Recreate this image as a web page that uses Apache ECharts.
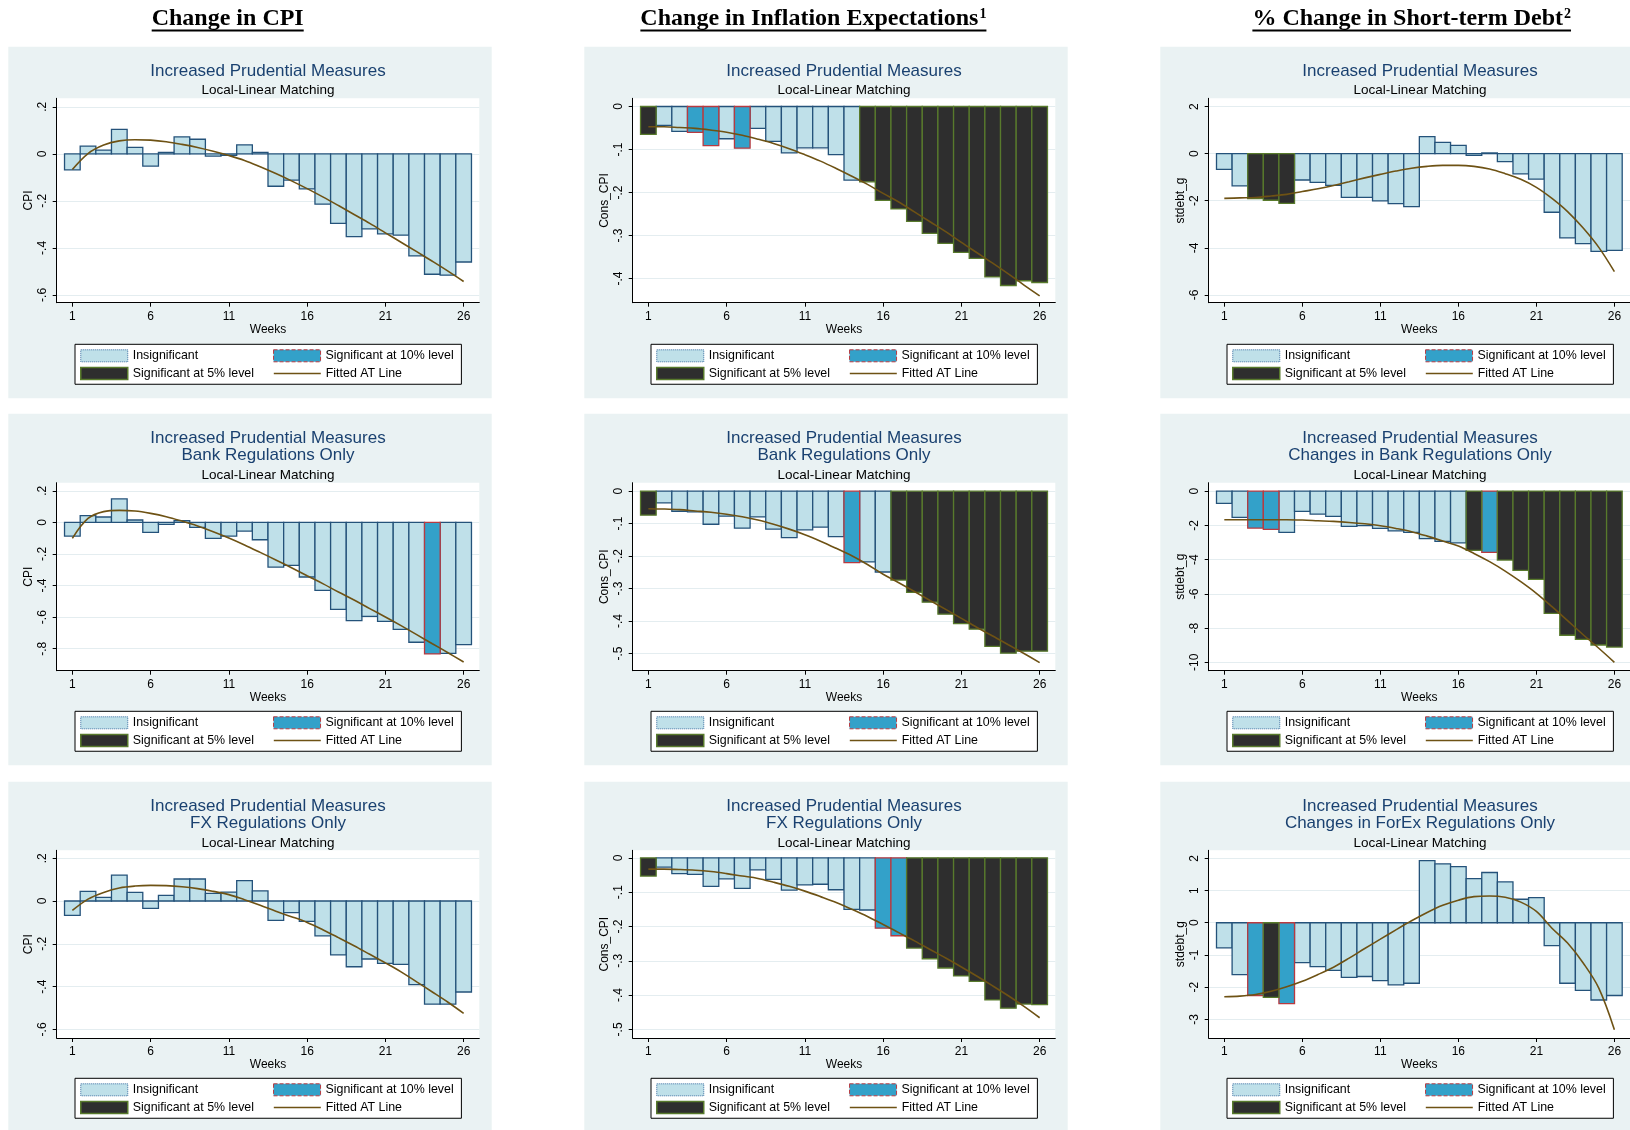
<!DOCTYPE html>
<html><head><meta charset="utf-8">
<script src="https://cdn.jsdelivr.net/npm/echarts@6/dist/echarts.min.js"></script>
<style>html,body{margin:0;padding:0;background:#fff}#c{width:1630px;height:1130px}</style>
</head><body><div id="c"></div>
<script>
const weeks = [1,2,3,4,5,6,7,8,9,10,11,12,13,14,15,16,17,18,19,20,21,22,23,24,25,26];
const xTicks = [1,6,11,16,21,26];
const headers = ['Change in CPI', 'Change in Inflation Expectations', '% Change in Short-term Debt'];
const headerSups = ['', '1', '2'];
const classNames = ['Insignificant', 'Significant at 10% level', 'Significant at 5% level'];
const lineName = 'Fitted AT Line';
const subTitle = 'Local-Linear Matching';
const xName = 'Weeks';

// sig codes: 0 insignificant, 1 significant at 10%, 2 significant at 5%
// Row 1: Increased Prudential Measures
const p1Values = [-0.068,0.033,0.016,0.104,0.027,-0.052,0.006,0.072,0.062,-0.010,-0.007,0.038,0.006,-0.138,-0.112,-0.149,-0.214,-0.296,-0.352,-0.319,-0.340,-0.346,-0.434,-0.512,-0.516,-0.460];
const p1Sig = [0,0,0,0,0,0,0,0,0,0,0,0,0,0,0,0,0,0,0,0,0,0,0,0,0,0];
const p1Fit = [-0.067,0.001,0.037,0.055,0.060,0.058,0.051,0.040,0.027,0.011,-0.007,-0.028,-0.055,-0.084,-0.115,-0.148,-0.183,-0.220,-0.258,-0.296,-0.336,-0.376,-0.416,-0.457,-0.499,-0.543];
const p1Ticks = [-0.6,-0.4,-0.2,0,0.2];
const p1Range = [-0.633,0.236];

const p2Values = [-0.065,-0.044,-0.058,-0.060,-0.091,-0.075,-0.097,-0.051,-0.081,-0.108,-0.096,-0.096,-0.112,-0.171,-0.175,-0.218,-0.238,-0.267,-0.295,-0.318,-0.339,-0.353,-0.396,-0.416,-0.405,-0.409];
const p2Sig = [2,0,0,1,1,0,1,0,0,0,0,0,0,0,2,2,2,2,2,2,2,2,2,2,2,2];
const p2Fit = [-0.047,-0.047,-0.049,-0.051,-0.055,-0.060,-0.067,-0.076,-0.086,-0.098,-0.112,-0.127,-0.144,-0.162,-0.181,-0.202,-0.222,-0.245,-0.268,-0.291,-0.316,-0.340,-0.364,-0.389,-0.415,-0.440];
const p2Ticks = [-0.4,-0.3,-0.2,-0.1,0];
const p2Range = [-0.456,0.019];

const p3Values = [-0.67,-1.37,-1.91,-1.98,-2.11,-1.12,-1.22,-1.35,-1.86,-1.86,-2.01,-2.12,-2.25,0.72,0.48,0.35,-0.07,0.03,-0.34,-0.86,-1.08,-2.49,-3.58,-3.82,-4.15,-4.11];
const p3Sig = [0,0,2,2,2,0,0,0,0,0,0,0,0,0,0,0,0,0,0,0,0,0,0,0,0,0];
const p3Fit = [-1.90,-1.88,-1.86,-1.80,-1.73,-1.61,-1.49,-1.35,-1.19,-1.03,-0.88,-0.74,-0.62,-0.54,-0.50,-0.50,-0.54,-0.65,-0.85,-1.09,-1.43,-1.90,-2.46,-3.16,-3.98,-5.01];
const p3Ticks = [-6,-4,-2,0,2];
const p3Range = [-6.33,2.35];

// Row 2: Bank regulations
const p4Values = [-0.087,0.042,0.034,0.148,0.015,-0.063,-0.013,0.011,-0.032,-0.101,-0.087,-0.055,-0.110,-0.283,-0.272,-0.346,-0.430,-0.551,-0.622,-0.595,-0.627,-0.677,-0.759,-0.833,-0.829,-0.774];
const p4Sig = [0,0,0,0,0,0,0,0,0,0,0,0,0,0,0,0,0,0,0,0,0,0,0,1,0,0];
const p4Fit = [-0.101,0.025,0.068,0.076,0.072,0.057,0.036,0.008,-0.023,-0.059,-0.099,-0.143,-0.190,-0.238,-0.287,-0.338,-0.388,-0.441,-0.492,-0.546,-0.599,-0.654,-0.711,-0.768,-0.825,-0.884];
const p4Ticks = [-0.8,-0.6,-0.4,-0.2,0,0.2];
const p4Range = [-0.939,0.251];

const p5Values = [-0.074,-0.036,-0.062,-0.064,-0.102,-0.077,-0.114,-0.079,-0.117,-0.143,-0.119,-0.111,-0.140,-0.220,-0.218,-0.249,-0.274,-0.312,-0.342,-0.379,-0.408,-0.425,-0.478,-0.499,-0.493,-0.493];
const p5Sig = [2,0,0,0,0,0,0,0,0,0,0,0,0,1,0,0,2,2,2,2,2,2,2,2,2,2];
const p5Fit = [-0.054,-0.055,-0.057,-0.061,-0.065,-0.071,-0.079,-0.089,-0.102,-0.117,-0.134,-0.154,-0.176,-0.199,-0.226,-0.256,-0.282,-0.309,-0.337,-0.364,-0.392,-0.420,-0.446,-0.473,-0.500,-0.528];
const p5Ticks = [-0.5,-0.4,-0.3,-0.2,-0.1,0];
const p5Range = [-0.553,0.026];

const p6Values = [-0.72,-1.54,-2.16,-2.24,-2.41,-1.19,-1.34,-1.48,-2.06,-2.02,-2.18,-2.32,-2.41,-2.78,-2.94,-3.02,-3.46,-3.58,-4.03,-4.63,-5.16,-7.14,-8.42,-8.66,-8.99,-9.11];
const p6Sig = [0,0,1,1,0,0,0,0,0,0,0,0,0,0,0,0,2,1,2,2,2,2,2,2,2,2];
const p6Fit = [-1.67,-1.67,-1.67,-1.67,-1.67,-1.69,-1.73,-1.77,-1.83,-1.91,-2.02,-2.18,-2.37,-2.63,-2.92,-3.21,-3.64,-4.12,-4.67,-5.29,-5.97,-6.75,-7.57,-8.39,-9.18,-10.0];
const p6Ticks = [-10,-8,-6,-4,-2,0];
const p6Range = [-10.49,0.49];

// Row 3: FX regulations
const p7Values = [-0.067,0.045,0.017,0.121,0.040,-0.034,0.026,0.103,0.103,0.036,0.042,0.095,0.047,-0.090,-0.054,-0.095,-0.163,-0.252,-0.307,-0.271,-0.291,-0.296,-0.391,-0.482,-0.482,-0.425];
const p7Sig = [0,0,0,0,0,0,0,0,0,0,0,0,0,0,0,0,0,0,0,0,0,0,0,0,0,0];
const p7Fit = [-0.044,0.009,0.040,0.061,0.070,0.073,0.072,0.067,0.058,0.045,0.030,0.006,-0.020,-0.048,-0.073,-0.100,-0.134,-0.171,-0.209,-0.249,-0.289,-0.331,-0.378,-0.425,-0.473,-0.525];
const p7Ticks = [-0.6,-0.4,-0.2,0,0.2];
const p7Range = [-0.640,0.237];

const p8Values = [-0.053,-0.027,-0.046,-0.048,-0.083,-0.061,-0.089,-0.035,-0.063,-0.094,-0.079,-0.077,-0.093,-0.150,-0.152,-0.205,-0.227,-0.263,-0.294,-0.321,-0.344,-0.360,-0.414,-0.438,-0.426,-0.428];
const p8Sig = [2,0,0,0,0,0,0,0,0,0,0,0,0,0,0,1,1,2,2,2,2,2,2,2,2,2];
const p8Fit = [-0.033,-0.033,-0.034,-0.036,-0.040,-0.046,-0.053,-0.060,-0.071,-0.083,-0.097,-0.113,-0.130,-0.150,-0.171,-0.194,-0.218,-0.242,-0.267,-0.292,-0.318,-0.345,-0.373,-0.402,-0.433,-0.466];
const p8Ticks = [-0.5,-0.4,-0.3,-0.2,-0.1,0];
const p8Range = [-0.525,0.022];

const p9Values = [-0.78,-1.61,-2.26,-2.32,-2.51,-1.24,-1.36,-1.48,-1.70,-1.67,-1.80,-1.93,-1.88,1.93,1.83,1.74,1.37,1.56,1.27,0.73,0.78,-0.71,-1.88,-2.10,-2.40,-2.26];
const p9Sig = [0,0,1,2,1,0,0,0,0,0,0,0,0,0,0,0,0,0,0,0,0,0,0,0,0,0];
const p9Fit = [-2.30,-2.28,-2.23,-2.13,-1.99,-1.82,-1.61,-1.38,-1.10,-0.80,-0.51,-0.22,0.06,0.32,0.54,0.70,0.81,0.83,0.79,0.64,0.35,-0.17,-0.63,-1.25,-2.03,-3.32];
const p9Ticks = [-3,-2,-1,0,1,2];
const p9Range = [-3.58,2.25];

const panels = [
  {v:p1Values,s:p1Sig,f:p1Fit,t:p1Ticks,r:p1Range,y:'CPI',lines:['Increased Prudential Measures']},
  {v:p2Values,s:p2Sig,f:p2Fit,t:p2Ticks,r:p2Range,y:'Cons_CPI',lines:['Increased Prudential Measures']},
  {v:p3Values,s:p3Sig,f:p3Fit,t:p3Ticks,r:p3Range,y:'stdebt_g',lines:['Increased Prudential Measures']},
  {v:p4Values,s:p4Sig,f:p4Fit,t:p4Ticks,r:p4Range,y:'CPI',lines:['Increased Prudential Measures','Bank Regulations Only']},
  {v:p5Values,s:p5Sig,f:p5Fit,t:p5Ticks,r:p5Range,y:'Cons_CPI',lines:['Increased Prudential Measures','Bank Regulations Only']},
  {v:p6Values,s:p6Sig,f:p6Fit,t:p6Ticks,r:p6Range,y:'stdebt_g',lines:['Increased Prudential Measures','Changes in Bank Regulations Only']},
  {v:p7Values,s:p7Sig,f:p7Fit,t:p7Ticks,r:p7Range,y:'CPI',lines:['Increased Prudential Measures','FX Regulations Only']},
  {v:p8Values,s:p8Sig,f:p8Fit,t:p8Ticks,r:p8Range,y:'Cons_CPI',lines:['Increased Prudential Measures','FX Regulations Only']},
  {v:p9Values,s:p9Sig,f:p9Fit,t:p9Ticks,r:p9Range,y:'stdebt_g',lines:['Increased Prudential Measures','Changes in ForEx Regulations Only']}
];

const FONT = '"Liberation Sans", Arial, sans-serif';
const SERIF = '"Liberation Serif", "Times New Roman", serif';
const PANEL_BG = '#eaf2f3';
const LINE_COLOR = '#6e5214';
const classStyles = [
  {fill:'#bfe0e9', stroke:'#24527a'},
  {fill:'#33a1c9', stroke:'#b83a40'},
  {fill:'#2e2e2e', stroke:'#587a2c'}
];
const legendData = [
  {name:classNames[0], icon:'rect', itemStyle:{color:classStyles[0].fill, borderColor:'#3a6ea0', borderWidth:1, borderType:'dotted'}},
  {name:classNames[1], icon:'rect', itemStyle:{color:classStyles[1].fill, borderColor:'#b83a40', borderWidth:1, borderType:'dashed'}},
  {name:classNames[2], icon:'rect', itemStyle:{color:classStyles[2].fill, borderColor:'#587a2c', borderWidth:1.5}},
  {name:lineName, itemStyle:{color:'rgba(0,0,0,0)', borderColor:'rgba(0,0,0,0)', borderWidth:0, opacity:0}, lineStyle:{color:LINE_COLOR, width:1.5}}
];

// layout
const colX = [0,576,1152];
const panelTop = [46.8,413.7,781.7];
const gridTop = [98.3,482.7,850.3];
const gridH = [204.4,188,187.7];
const legendTop = [344.3,711.3,1078.3];
const headerX = [227.7,813.4,1411.7];

function fmt(v){ const s = String(+(+v).toFixed(4)); return s.replace(/^(-?)0\./,'$1.'); }
function makeRender(k){
  const st = classStyles[k];
  return function(params, api){
    const x = api.value(0), val = api.value(1);
    const a = api.coord([x-0.5, val]), b = api.coord([x+0.5, 0]);
    return {type:'rect', shape:{x:a[0], y:Math.min(a[1],b[1]), width:b[0]-a[0], height:Math.abs(b[1]-a[1])},
      style:{fill:st.fill, stroke:st.stroke, lineWidth:1.3}};
  };
}

const measure = document.createElement('canvas').getContext('2d');
const option = {animation:false, textStyle:{fontFamily:FONT}, graphic:[], title:[], grid:[], xAxis:[], yAxis:[], legend:[], series:[]};

headers.forEach((h,i)=>{
  measure.font = 'bold 24px ' + SERIF;
  let w = measure.measureText(h).width;
  if (headerSups[i]) { measure.font = 'bold 14px ' + SERIF; w += measure.measureText(headerSups[i]).width + 1; }
  option.graphic.push({type:'text', x:headerX[i]-w/2, y:19.2, z:10,
    style:{text: headerSups[i] ? '{m|'+h+'}{s|'+headerSups[i]+'}' : '{m|'+h+'}',
      rich:{m:{font:'bold 24px '+SERIF, fill:'#000', lineHeight:24}, s:{font:'bold 14px '+SERIF, fill:'#000', verticalAlign:'top', lineHeight:18, padding:[0,0,0,1]}},
      textAlign:'left', textVerticalAlign:'middle'}});
  option.graphic.push({type:'line', z:10, shape:{x1:headerX[i]-w/2, y1:30.5, x2:headerX[i]+w/2, y2:30.5}, style:{stroke:'#000', lineWidth:2}});
});

panels.forEach((p,i)=>{
  const r = Math.floor(i/3), c = i%3;
  const px = 8.3 + colX[c], py = panelTop[r];
  const gl = 56.7 + colX[c];
  option.graphic.push({type:'rect', z:-10, silent:true, shape:{x:px, y:py, width:483.4, height:351.5}, style:{fill:PANEL_BG}});
  option.title.push({text:p.lines.join('\n'), subtext:subTitle, left:gl+211.3, top:py+15.5, textAlign:'center', padding:0, itemGap:3.6,
    textStyle:{fontSize:17, fontWeight:'normal', color:'#1a4170', lineHeight:17.7, fontFamily:FONT},
    subtextStyle:{fontSize:13.5, color:'#000', lineHeight:13.5, fontFamily:FONT}});
  option.grid.push({left:gl, top:gridTop[r], width:422.6, height:gridH[r], show:true, backgroundColor:'#fff', borderWidth:0});
  option.xAxis.push({gridIndex:i, type:'value', min:0, max:27,
    axisLine:{onZero:false, lineStyle:{color:'#000', width:1}},
    axisTick:{show:true, customValues:xTicks, length:4, lineStyle:{color:'#000'}},
    axisLabel:{customValues:xTicks, fontSize:12, color:'#000', margin:8, fontFamily:FONT},
    splitLine:{show:false},
    name:xName, nameLocation:'middle', nameGap:21, nameTextStyle:{fontSize:12, color:'#000', fontFamily:FONT}});
  option.yAxis.push({gridIndex:i, type:'value', min:p.r[0], max:p.r[1],
    axisLine:{show:true, onZero:false, lineStyle:{color:'#000', width:1}},
    axisTick:{show:true, customValues:p.t, length:4, lineStyle:{color:'#000'}},
    axisLabel:{customValues:p.t, rotate:90, fontSize:12, color:'#000', margin:8, formatter:fmt, fontFamily:FONT},
    splitLine:{show:true, lineStyle:{color:'#e4edf0', width:1}},
    name:p.y, nameLocation:'middle', nameGap:22, nameTextStyle:{fontSize:12, color:'#000', fontFamily:FONT}});
  [0,1,2].forEach(k=>{
    const data = [];
    weeks.forEach((w,j)=>{ if (p.s[j]===k) data.push([w, p.v[j]]); });
    option.series.push({type:'custom', name:classNames[k], xAxisIndex:i, yAxisIndex:i, data:data,
      renderItem:makeRender(k), encode:{x:0, y:1}, itemStyle:{color:classStyles[k].fill}, z:2, silent:true});
  });
  option.series.push({type:'line', name:lineName, xAxisIndex:i, yAxisIndex:i, data:weeks.map((w,j)=>[w,p.f[j]]),
    symbol:'none', smooth:0.35, lineStyle:{color:LINE_COLOR, width:1.6}, itemStyle:{color:LINE_COLOR}, z:5, silent:true});
  option.legend.push({left:75+colX[c], top:legendTop[r], orient:'horizontal', width:382, padding:[5,0,4,5],
    itemGap:4.7, itemWidth:47, itemHeight:12, backgroundColor:'#fff', borderColor:'#000', borderWidth:1, borderRadius:0,
    selectedMode:false, align:'left',
    textStyle:{fontSize:12.4, color:'#000', width:135.6, lineHeight:12, fontFamily:FONT},
    data:legendData});
});

const chart = echarts.init(document.getElementById('c'), null, {renderer:'canvas'});
chart.setOption(option);
</script></body></html>
